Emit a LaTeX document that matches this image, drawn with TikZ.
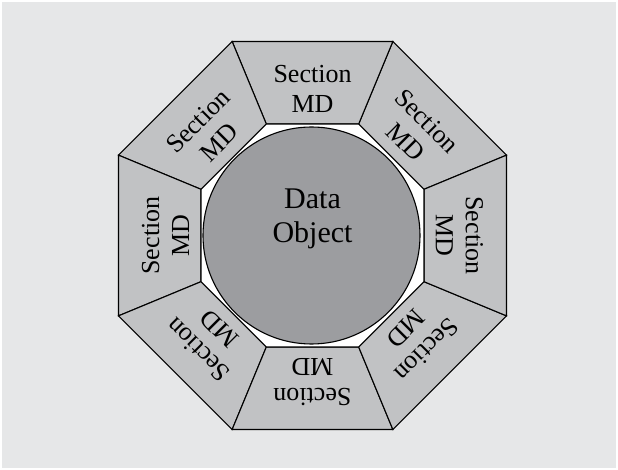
\documentclass[tikz,border=0pt]{standalone}
\usepackage{fontspec}
\setmainfont{Liberation Serif}
\definecolor{bg}{HTML}{E6E7E8}
\definecolor{seg}{HTML}{C1C2C4}
\definecolor{core}{HTML}{9C9DA0}
\begin{document}
\begin{tikzpicture}[x=1pt,y=1pt,line join=miter,
  seglabel/.style={align=center,font=\fontsize{26}{30}\selectfont,inner sep=0pt},
  corelabel/.style={align=center,font=\fontsize{30}{34}\selectfont,inner sep=0pt},
  segshape/.style={fill=seg,draw=black,line width=1.1pt},
  hole/.style={fill=white,draw=black,line width=1.1pt},
  coreshape/.style={fill=core,draw=black,line width=1.1pt}]
\useasboundingbox (-312.5,-234.5) rectangle (305.5,235.5);
\fill[bg] (-310.5,-232.5) rectangle (303.5,233.5);
\foreach \k in {0,...,7} {
  \pgfmathsetmacro\a{22.5+45*\k}
  \pgfmathsetmacro\b{\a+45}
  \pgfmathsetmacro\m{\a+22.5}
  \pgfmathsetmacro\r{\m-90}
  \filldraw[segshape] (\a:210) -- (\b:210) -- (\b:120.7) -- (\a:120.7) -- cycle;
  \node[seglabel,rotate=\r] (sec\k) at (\m:147) {Section\\MD};
}
\filldraw[hole] (22.5:120.7) -- (67.5:120.7) -- (112.5:120.7) -- (157.5:120.7)
  -- (202.5:120.7) -- (247.5:120.7) -- (292.5:120.7) -- (337.5:120.7) -- cycle;
\filldraw[coreshape] (-1,0) circle (108.5);
\node[corelabel] (data) at (0,17) {Data\\Object};
\end{tikzpicture}
\end{document}
